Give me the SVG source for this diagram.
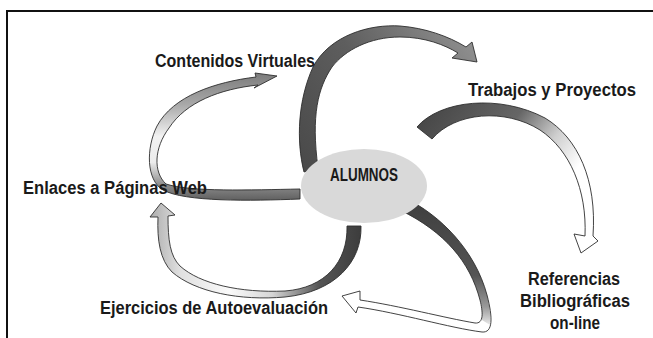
<svg xmlns="http://www.w3.org/2000/svg" width="653" height="338" viewBox="0 0 653 338">
<style>
.lbl{font-family:"Liberation Sans",Arial,sans-serif;font-weight:bold;font-size:17.5px;fill:#1a1a1a}
.arr{stroke:#2e2e2e;stroke-width:0.9;stroke-linejoin:round}
.frame{stroke:#111;stroke-width:2;fill:none}
</style>
<defs>
<linearGradient id="gA" gradientUnits="userSpaceOnUse" x1="305" y1="170" x2="478" y2="55">
<stop offset="0" stop-color="#4a4a4a"/><stop offset="0.5" stop-color="#5e5e5e"/><stop offset="1" stop-color="#8e8e8e"/>
</linearGradient>
<linearGradient id="gB" gradientUnits="userSpaceOnUse" x1="420" y1="120" x2="590" y2="250">
<stop offset="0" stop-color="#474747"/><stop offset="0.35" stop-color="#666"/><stop offset="0.55" stop-color="#cfcfcf"/><stop offset="0.72" stop-color="#fff"/><stop offset="1" stop-color="#fff"/>
</linearGradient>
<linearGradient id="gC" gradientUnits="userSpaceOnUse" x1="0" y1="200" x2="0" y2="326">
<stop offset="0" stop-color="#3e3e3e"/><stop offset="0.6" stop-color="#555"/><stop offset="0.85" stop-color="#9a9a9a"/><stop offset="1" stop-color="#eee"/>
</linearGradient>
<linearGradient id="gD" gradientUnits="userSpaceOnUse" x1="362" y1="0" x2="148" y2="0">
<stop offset="0" stop-color="#3c3c3c"/><stop offset="0.2" stop-color="#555"/><stop offset="0.42" stop-color="#d6d6d6"/><stop offset="0.62" stop-color="#fafafa"/><stop offset="0.85" stop-color="#e0e0e0"/><stop offset="1" stop-color="#a8a8a8"/>
</linearGradient>
<linearGradient id="gE" gradientUnits="userSpaceOnUse" x1="0" y1="201" x2="0" y2="72">
<stop offset="0" stop-color="#5e5e5e"/><stop offset="0.12" stop-color="#8a8a8a"/><stop offset="0.3" stop-color="#ececec"/><stop offset="0.5" stop-color="#f2f2f2"/><stop offset="0.75" stop-color="#a8a8a8"/><stop offset="1" stop-color="#7a7a7a"/>
</linearGradient>
</defs>
<rect width="653" height="338" fill="#fff"/>
<path class="frame" d="M7,338 V11 H653"/>
<g id="connectors">
<g id="arrow-alumnos-trabajos">
<path class="arr" fill="url(#gA)" d="M304,172 C296,140 298,100 313,67 C330,35 370,24 400,26 C425,28 448,36 466,47 L472,42 L477,62 L452,58 L458,53 C445,45 425,37 400,37 C370,37 345,50 332,67 C318,88 311,115 318,168 Z"/>
</g>
<g id="arrow-trabajos-referencias">
<path class="arr" fill="url(#gB)" d="M417,127 C440,100 500,94 545,118 C578,138 597,180 593,236 L598,241 L581,253 L574,234 L585,236 C587,190 570,150 540,130 C505,108 455,112 432,139 Z"/>
</g>
<g id="arrow-alumnos-ejercicios">
<path fill="#fff" d="M405,198 C440,215 475,250 487,295 C493,318 493,333 482,332 C450,328 400,313 358,307 L356,313 L342,296 L360,291 L360,300 C400,306 445,318 475,323 C484,324 483,312 480,300 C470,262 445,232 400,210 Z"/>
<path fill="url(#gC)" d="M405,198 C440,215 475,250 487,295 C490,308 491,318 490,325 L482,320 C482,312 482,306 480,300 C470,262 445,232 400,210 Z"/>
<path class="arr" fill="none" d="M405,198 C440,215 475,250 487,295 C493,318 493,333 482,332 C450,328 400,313 358,307 L356,313 L342,296 L360,291 L360,300 C400,306 445,318 475,323 C484,324 483,312 480,300 C470,262 445,232 400,210 Z"/>
</g>
<g id="arrow-alumnos-enlaces">
<path class="arr" fill="url(#gD)" d="M361,226 C362,262 335,292 285,297 C240,301 195,292 172,272 C160,260 157,240 158,217 L150,217 L161,203 L175,215 L168,216 C168,240 170,256 180,266 C200,284 240,293 285,291 C325,288 348,262 347,226 Z"/>
</g>
<g id="arrow-enlaces-contenidos">
<path class="arr" fill="url(#gE)" d="M300,199 C250,201 185,202 163,190 C146,180 146,148 157,126 C173,96 215,82 256,77 L255,73 L277,76 L254,88 L258,85 C220,89 186,102 169,128 C154,148 153,172 166,184 C190,192 250,190 300,189 Z"/>
</g>
</g>
<g id="node-alumnos">
<ellipse cx="364" cy="186" rx="63" ry="37" fill="#d9d9d9"/>
<text class="lbl" x="330" y="180.5" font-size="15.5" textLength="68" lengthAdjust="spacingAndGlyphs">ALUMNOS</text>
</g>
<g id="node-contenidos">
<text class="lbl" x="155" y="67" textLength="160" lengthAdjust="spacingAndGlyphs">Contenidos Virtuales</text>
</g>
<g id="node-trabajos">
<text class="lbl" x="468" y="96" textLength="168" lengthAdjust="spacingAndGlyphs">Trabajos y Proyectos</text>
</g>
<g id="node-referencias">
<text class="lbl" text-anchor="middle" x="574" y="285" textLength="92" lengthAdjust="spacingAndGlyphs">Referencias</text>
<text class="lbl" text-anchor="middle" x="575" y="307" textLength="110" lengthAdjust="spacingAndGlyphs">Bibliográficas</text>
<text class="lbl" text-anchor="middle" x="575" y="329" textLength="50" lengthAdjust="spacingAndGlyphs">on-line</text>
</g>
<g id="node-ejercicios">
<text class="lbl" x="100" y="314" textLength="228" lengthAdjust="spacingAndGlyphs">Ejercicios de Autoevaluación</text>
</g>
<g id="node-enlaces">
<text class="lbl" x="23" y="193.5" textLength="184" lengthAdjust="spacingAndGlyphs">Enlaces a Páginas Web</text>
</g>
</svg>
